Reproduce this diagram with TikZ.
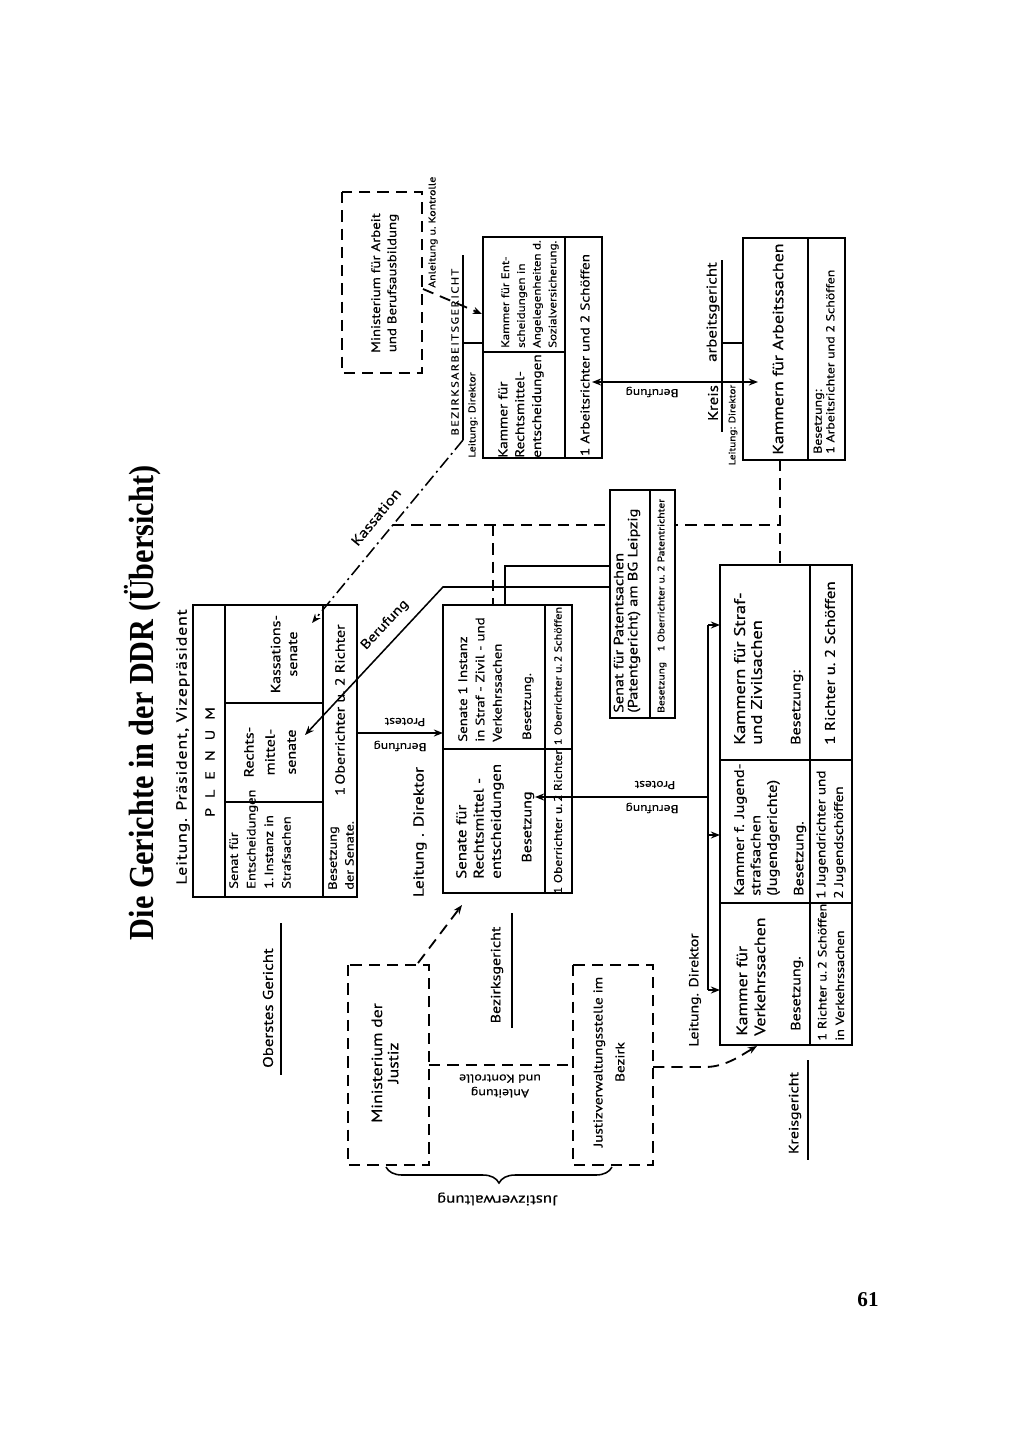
\documentclass[tikz,border=0pt]{standalone}
\usepackage{fontspec}
\setmainfont{PT Sans}[FakeStretch=1.2,FakeBold=0.4]
\newfontfamily\titlefont{Liberation Serif}
\usetikzlibrary{arrows.meta,decorations.pathreplacing}
\newcommand\myfs[2]{\fontsize{#1}{#2}\selectfont}
\begin{document}
\begin{tikzpicture}[x=0.025cm,y=-0.025cm,
  box/.style={line width=1.7pt},
  dbox/.style={line width=1.4pt,dash pattern=on 8pt off 5pt},
  dline/.style={line width=1.3pt,dash pattern=on 8pt off 5pt},
  kline/.style={line width=1.1pt,dash pattern=on 9pt off 3pt on 1.5pt off 3pt},
  con/.style={line width=1.1pt},
  tip/.style={-{Stealth[length=6.5pt,width=5pt]}},
  t/.style={rotate=90,inner sep=0pt,font=\myfs{9.5}{12}},
  tl/.style={t,anchor=west,align=left},
  tc/.style={t,align=center},
  u/.style={rotate=180,inner sep=0pt,align=center,font=\myfs{8}{10.5}}]
\useasboundingbox (0,0) rectangle (1024,1435);
\fill[white] (0,0) rectangle (1024,1435);

% title and page number
\node[rotate=90,inner sep=0pt] (title) at (143,703) {\scalebox{0.86}[1]{\titlefont\bfseries\myfs{25}{30}Die Gerichte in der DDR (Übersicht)}};
\node[inner sep=0pt,font=\titlefont\bfseries\myfs{15}{18}] (pnum) at (868,1300) {61};

% ===== Oberstes Gericht =====
\node[t,font=\myfs{10.5}{12}\addfontfeatures{LetterSpace=6}] (leitP) at (183,747) {Leitung. Präsident, Vizepräsident};
\coordinate (P1) at (193,605); \coordinate (P2) at (357,897);
\draw[box] (P1) rectangle (P2);
\draw[box] (225,605) -- (225,897) (323,605) -- (323,897) (225,703) -- (323,703) (225,802) -- (323,802);
\node[t] (plenum) at (210,762) {P\hspace{.75em}L\hspace{.75em}E\hspace{.75em}N\hspace{.75em}U\hspace{.75em}M};
\node[tc] (kass) at (284,654) {Kassations-\\senate};
\node[tc,font=\myfs{9.5}{15}] (rechts) at (270,752) {Rechts-\\mittel-\\senate};
\node[tl,font=\myfs{8.6}{12.5}] (senE) at (260,889) {Senat für\\Entscheidungen\\1.\,Instanz in\\Strafsachen};
\node[tl,font=\myfs{8.5}{12}] (besP) at (341,890) {Besetzung\\der Senate.};
\node[t,font=\myfs{9.5}{11}] (richP) at (340,710) {1\,Oberrichter u.\ 2 Richter};
\node[t,font=\myfs{10}{12}] (oglbl) at (268,1008) {Oberstes Gericht};
\coordinate (og1) at (281,923); \coordinate (og2) at (281,1075);
\draw[con] (og1) -- (og2);

% ===== Bezirksgericht =====
\node[t,font=\myfs{10.3}{12}] (leitB) at (420,832) {Leitung . Direktor};
\coordinate (B1) at (443,605); \coordinate (B2) at (572,893);
\draw[box] (B1) rectangle (B2);
\draw[box] (545,605) -- (545,893) (443,749) -- (572,749);
\node[tl,font=\myfs{10}{12.3}] (senR) at (480,879) {Senate für\\Rechtsmittel -\\entscheidungen};
\node[t] (besR) at (528,827) {Besetzung};
\node[t,font=\myfs{8}{10}] (richR) at (558,822) {1 Oberrichter u.\,2 Richter};
\node[tl,font=\myfs{8.8}{12.3}] (sen1) at (480,742) {Senate 1 Instanz\\in Straf - Zivil - und\\Verkehrssachen};
\node[tl,font=\myfs{8.5}{12}] (bes1) at (528,740) {Besetzung.};
\node[t,font=\myfs{7.2}{9}] (sch1) at (558,676) {1 Oberrichter u.\,2 Schöffen};
\node[t,font=\myfs{9.5}{12}] (bglbl) at (497,975) {Bezirksgericht};
\coordinate (bg1) at (512,913); \coordinate (bg2) at (512,1028);
\draw[con] (bg1) -- (bg2);

% ===== dashed Kassation network (behind patent box) =====
\coordinate (kS) at (463,440); \coordinate (kE) at (312,623);
\coordinate (kJ) at (393,525); \coordinate (kR) at (780,525);
\coordinate (kB) at (493,525); \coordinate (kBb) at (493,605);
\coordinate (kKt) at (780,460); \coordinate (kKb) at (780,565);
\draw[dline] (kJ) -- (kR);
\draw[dline] (kB) -- (kBb);
\draw[dline] (kKt) -- (kKb);
\draw[kline,tip] (kS) -- (kE);
\node[rotate=50.5,inner sep=0pt,font=\myfs{10}{12}] (kasslbl) at (376,517) {Kassation};

% ===== Patent senate =====
\coordinate (Pa1) at (610,490); \coordinate (Pa2) at (675,718);
\draw[box,fill=white] (Pa1) rectangle (Pa2);
\draw[box] (650,490) -- (650,718);
\node[tl,font=\myfs{9.6}{10}] (pat) at (627,713) {Senat für Patentsachen\\(Patentgericht) am BG Leipzig};
\node[tl,font=\myfs{6.8}{9}] (patb) at (662,713) {Besetzung\hspace{1.1em}1 Oberrichter u.\ 2 Patentrichter};

% connectors patent -> plenum / senate 1 instanz
\coordinate (bf1) at (610,587); \coordinate (bf2) at (443,587); \coordinate (bf3) at (305,735);
\draw[con,tip] (bf1) -- (bf2) -- (bf3);
\node[rotate=47,inner sep=0pt,font=\myfs{9.5}{12}] (beruflbl) at (385,625) {Berufung};
\coordinate (s1a) at (610,566); \coordinate (s1b) at (505,566); \coordinate (s1c) at (505,605);
\draw[con] (s1a) -- (s1b) -- (s1c);

% Plenum <- Bezirk (Protest / Berufung)
\coordinate (pb1) at (357,733); \coordinate (pb2) at (443,733);
\draw[con,tip] (pb1) -- (pb2);
\node[u] (prPB) at (405,722) {Protest};
\node[u] (bePB) at (400,746) {Berufung};

% ===== Ministerium der Justiz / Justizverwaltungsstelle =====
\coordinate (MJ1) at (348,965); \coordinate (MJ2) at (429,1165);
\draw[dbox] (MJ1) rectangle (MJ2);
\node[tc,font=\myfs{10.5}{11.5}] (mdj) at (385,1063) {Ministerium der\\Justiz};
\coordinate (JV1) at (573,965); \coordinate (JV2) at (653,1165);
\draw[dbox] (JV1) rectangle (JV2);
\node[tc,font=\myfs{9}{15.6}] (jvs) at (609,1062) {Justizverwaltungsstelle im\\Bezirk};
\coordinate (ak1) at (429,1065); \coordinate (ak2) at (573,1065);
\draw[dline] (ak1) -- (ak2);
\node[u,font=\myfs{8.3}{10.5}] (ak) at (500,1086) {Anleitung\\und Kontrolle};
\coordinate (mjA) at (418,963); \coordinate (mjB) at (462,905);
\draw[dline,tip] (mjA) -- (mjB);
\coordinate (jvA) at (653,1067); \coordinate (jvB) at (705,1067); \coordinate (jvC) at (757,1046);
\draw[dline,tip] (jvA) -- (jvB) .. controls (725,1067) and (740,1056) .. (jvC);
\coordinate (brA) at (612,1167); \coordinate (brB) at (386,1167);
\draw[con,decorate,decoration={brace,amplitude=0.4cm}] (brA) -- (brB);
\node[u,font=\myfs{10}{12}] (jvw) at (497,1199) {Justizverwaltung};

% ===== Ministerium fuer Arbeit / Bezirksarbeitsgericht =====
\coordinate (MA1) at (342,192); \coordinate (MA2) at (422,373);
\draw[dbox] (MA1) rectangle (MA2);
\node[tc,font=\myfs{8.8}{11.5}] (mfa) at (385,283) {Ministerium für Arbeit\\und Berufsausbildung};
\node[t,anchor=west,font=\myfs{7}{9}] (akA) at (433,288) {Anleitung u.\ Kontrolle};
\coordinate (maA) at (423,289); \coordinate (maB) at (482,314);
\draw[dline,tip] (maA) -- (maB);

\coordinate (BA1) at (483,237); \coordinate (BA2) at (602,458);
\draw[box] (BA1) rectangle (BA2);
\draw[box] (565,237) -- (565,458) (483,352) -- (565,352);
\node[t,align=left,font=\myfs{9}{12}] (bagR) at (521,406) {Kammer für\\Rechtsmittel-\\entscheidungen};
\node[t,align=left,font=\myfs{7.7}{11.2}] (bagE) at (530,294) {Kammer für Ent-\\scheidungen in\\Angelegenheiten d.\\Sozialversicherung.};
\node[t,font=\myfs{9}{11}] (bagS) at (585,355) {1 Arbeitsrichter und 2 Schöffen};
\node[t,font=\myfs{7.3}{9}\addfontfeatures{LetterSpace=14}] (baglbl) at (455,352) {BEZIRKSARBEITSGERICHT};
\coordinate (bau1) at (463,255); \coordinate (bau2) at (463,440);
\draw[con] (bau1) -- (bau2);
\coordinate (bal1) at (463,343); \coordinate (bal2) at (483,343);
\draw[con] (bal1) -- (bal2);
\node[t,font=\myfs{7}{9}] (bagL) at (473,415) {Leitung: Direktor};

% ===== Kreisarbeitsgericht =====
\coordinate (KA1) at (743,238); \coordinate (KA2) at (845,460);
\draw[box] (KA1) rectangle (KA2);
\draw[box] (808,238) -- (808,460);
\node[t,font=\myfs{10.6}{13}] (kagK) at (778,349) {Kammern für Arbeitssachen};
\node[tl,font=\myfs{8.2}{9}] (kagB) at (824,454) {Besetzung:\\1 Arbeitsrichter und 2 Schöffen};
\node[t,font=\myfs{10}{13}] (kagKreis) at (713,403) {Kreis};
\node[t,font=\myfs{10}{13}] (kagArb) at (713,312) {arbeitsgericht};
\coordinate (kau1) at (722,260); \coordinate (kau2) at (722,432);
\draw[con] (kau1) -- (kau2);
\coordinate (kal1) at (722,343); \coordinate (kal2) at (743,343);
\draw[con] (kal1) -- (kal2);
\node[t,font=\myfs{6.6}{8}] (kagL) at (733,425) {Leitung: Direktor};
\coordinate (ba1) at (592,382); \coordinate (ba2) at (758,382);
\draw[con,{Stealth[length=6.5pt,width=5pt]}-{Stealth[length=6.5pt,width=5pt]}] (ba1) -- (ba2);
\node[u] (beBA) at (652,392) {Berufung};

% ===== Kreisgericht =====
\coordinate (K1) at (720,565); \coordinate (K2) at (852,1045);
\draw[box] (K1) rectangle (K2);
\draw[box] (810,565) -- (810,1045) (720,760) -- (852,760) (720,903) -- (852,903);
\node[tl,font=\myfs{10.6}{12.8}] (kv) at (751,1036) {Kammer für\\Verkehrssachen};
\node[tl,font=\myfs{9.5}{12}] (kvb) at (797,1031) {Besetzung.};
\node[tl,font=\myfs{8.5}{12.5}] (kvs) at (831,1041) {1 Richter u.\,2 Schöffen\\in Verkehrssachen};
\node[tl,font=\myfs{9.8}{11.7}] (kj) at (757,896) {Kammer f. Jugend-\\strafsachen\\(Jugendgerichte)};
\node[tl,font=\myfs{9.5}{12}] (kjb) at (800,896) {Besetzung.};
\node[tl,font=\myfs{9}{12.5}] (kjs) at (831,899) {1 Jugendrichter und\\2 Jugendschöffen};
\node[tl,font=\myfs{11}{12}] (ks) at (748,745) {Kammern für Straf-\\und Zivilsachen};
\node[tl,font=\myfs{9.5}{12}] (ksb) at (797,745) {Besetzung:};
\node[tl,font=\myfs{10}{12}] (kss) at (830,745) {1 Richter u.\ 2 Schöffen};
\node[t,font=\myfs{9.3}{12}] (kgL) at (695,990) {Leitung. Direktor};
\node[t,font=\myfs{9.5}{12}] (kglbl) at (795,1113) {Kreisgericht};
\coordinate (kg1) at (808,1060); \coordinate (kg2) at (808,1160);
\draw[con] (kg1) -- (kg2);

% Leitung bracket
\coordinate (lb1) at (708,625); \coordinate (lb2) at (708,990); \coordinate (lb3) at (708,835);
\coordinate (la1) at (720,625); \coordinate (la2) at (720,990); \coordinate (la3) at (720,835);
\draw[con] (lb1) -- (lb2);
\draw[con,tip] (lb1) -- (la1);
\draw[con,tip] (lb2) -- (la2);
\draw[con,tip] (lb3) -- (la3);

% Bezirk <- Kreis (Protest / Berufung)
\coordinate (bk1) at (708,797); \coordinate (bk2) at (535,797);
\draw[con,tip] (bk1) -- (bk2);
\node[u] (prBK) at (655,785) {Protest};
\node[u] (beBK) at (652,808) {Berufung};
\end{tikzpicture}
\end{document}
